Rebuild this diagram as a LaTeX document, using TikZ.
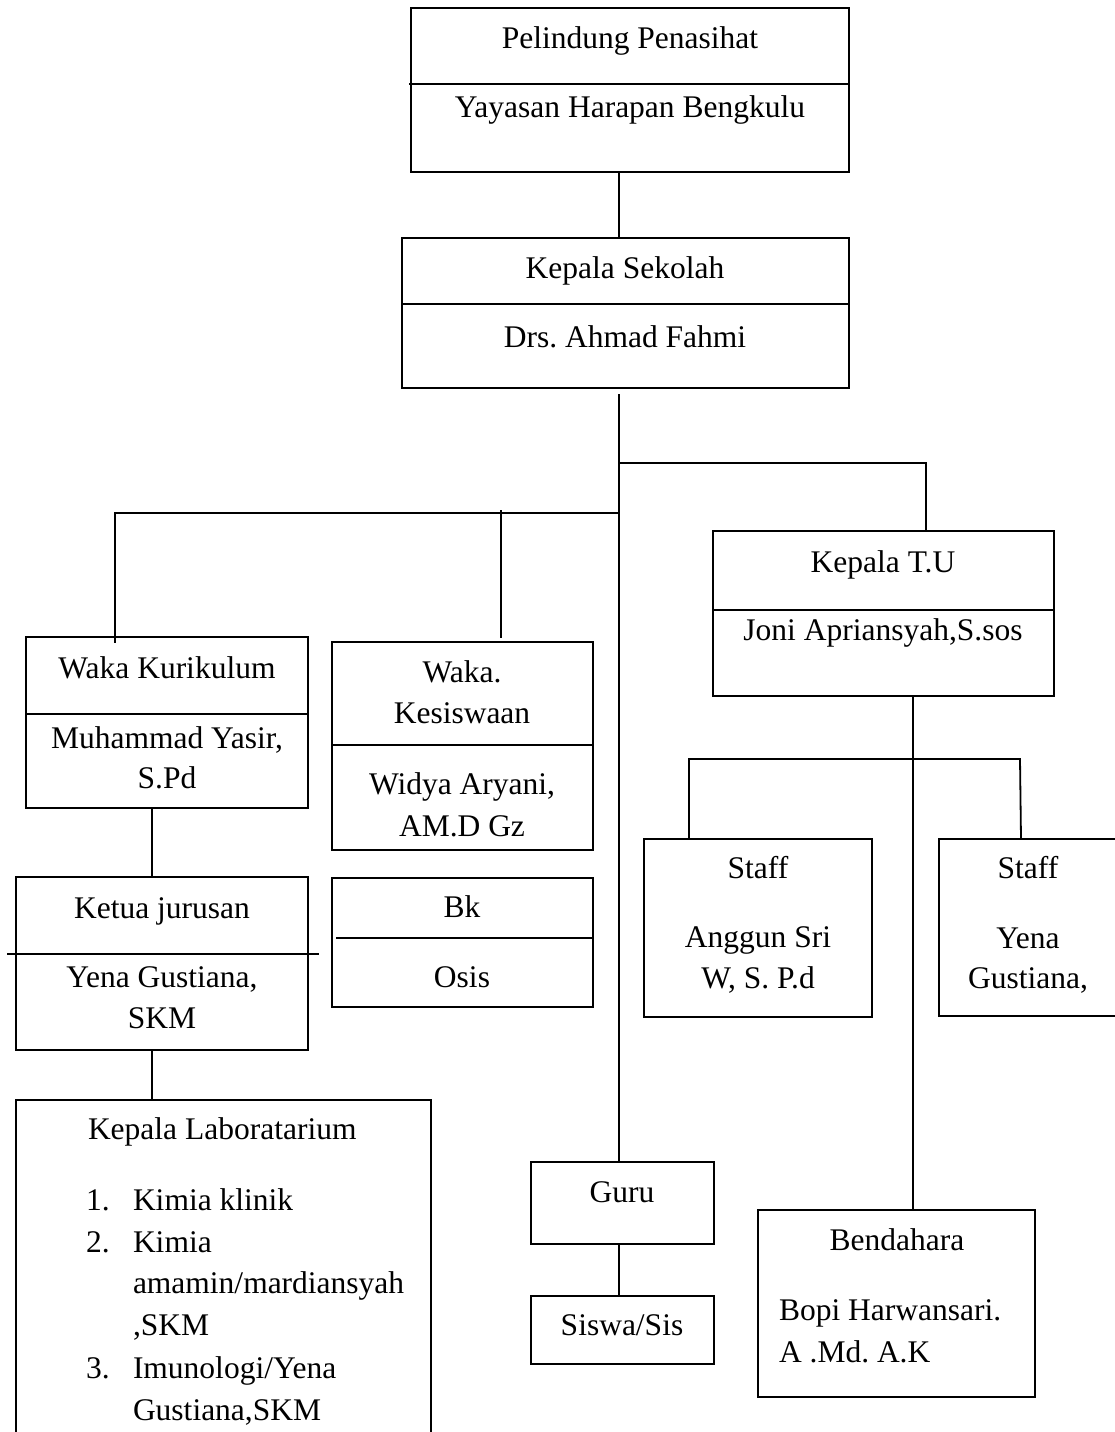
\documentclass[tikz,border=0pt]{standalone}
\usepackage{fontspec}
\setmainfont{Liberation Serif}
\frenchspacing
\begin{document}
\begin{tikzpicture}[x=1pt,y=-1pt,
  box/.style={draw, line width=1.8pt, inner sep=0pt, outer sep=0pt, anchor=north west},
  conn/.style={line width=1.8pt, line cap=rect},
  divl/.style={line width=1.8pt},
  txt/.style={inner sep=0pt, outer sep=0pt, anchor=base, font=\fontsize{31.5}{42}\selectfont},
  ltxt/.style={txt, anchor=base west}]
\fill[white] (0,0) rectangle (1114,1432);
\useasboundingbox (0,0) rectangle (1114,1432);

% boxes
\node[box, minimum width=438pt, minimum height=164pt] (pel) at (411,8) {};
\node[box, minimum width=447pt, minimum height=150pt] (ks) at (402,238) {};
\node[box, minimum width=341pt, minimum height=165pt] (tu) at (713,531) {};
\node[box, minimum width=228pt, minimum height=178pt] (st1) at (644,839) {};
\node[box, minimum width=200pt, minimum height=177pt] (st2) at (939,839) {};
\node[box, minimum width=282pt, minimum height=171pt] (wk) at (26,637) {};
\node[box, minimum width=261pt, minimum height=208pt] (kes) at (332,642) {};
\node[box, minimum width=292pt, minimum height=173pt] (ketua) at (16,877) {};
\node[box, minimum width=261pt, minimum height=129pt] (bk) at (332,878) {};
\node[box, minimum width=415pt, minimum height=360pt] (lab) at (16,1100) {};
\node[box, minimum width=183pt, minimum height=82pt] (guru) at (531,1162) {};
\node[box, minimum width=183pt, minimum height=68pt] (siswa) at (531,1296) {};
\node[box, minimum width=277pt, minimum height=187pt] (bend) at (758,1210) {};

% dividers
\draw[divl] (409,84) -- (pel.east |- 0,84);
\draw[divl] (ks.west |- 0,304) -- (ks.east |- 0,304);
\draw[divl] (tu.west |- 0,610) -- (tu.east |- 0,610);
\draw[divl] (wk.west |- 0,714) -- (wk.east |- 0,714);
\draw[divl] (kes.west |- 0,745) -- (kes.east |- 0,745);
\draw[divl] (7,954) -- (319,954);
\draw[divl] (336,938) -- (bk.east |- 0,938);

% connector coordinates
\coordinate (tx) at (619,395);
\coordinate (ja) at (619,463);
\coordinate (tuj) at (926,463);
\coordinate (jb) at (619,513);
\coordinate (wkj) at (115,513);
\coordinate (wkin) at (115,642);
\coordinate (kesj) at (501,511);
\coordinate (kesend) at (501,637);
\coordinate (sl) at (689,759);
\coordinate (sr) at (1020,759);
\coordinate (srend) at (1021,839);

% connectors
\draw[conn] (pel.south -| tx) -- (ks.north -| tx);
\draw[conn] (tx) -- (guru.north -| tx);
\draw[conn] (ja) -- (tuj) -- (tuj |- tu.north);
\draw[conn] (jb) -- (wkj) -- (wkin);
\draw[conn] (kesj) -- (kesend);
\draw[conn] (wk.south -| 152,0) -- (ketua.north -| 152,0);
\draw[conn] (ketua.south -| 152,0) -- (lab.north -| 152,0);
\draw[conn] (guru.south -| tx) -- (siswa.north -| tx);
\draw[conn] (tu.south -| 913,0) -- (bend.north -| 913,0);
\draw[conn] (sl) -- (sr);
\draw[conn] (sl) -- (st1.north -| sl);
\draw[conn] (sr) -- (srend);

% texts
\node[txt] (t1) at (630,48) {Pelindung Penasihat};
\node[txt] (t2) at (630,117) {Yayasan Harapan Bengkulu};
\node[txt] (t3) at (625,278) {Kepala Sekolah};
\node[txt] (t4) at (625,347) {Drs. Ahmad Fahmi};
\node[txt] (t5) at (883,572) {Kepala T.U};
\node[txt] (t6) at (883,640) {Joni Apriansyah,S.sos};
\node[txt] (t7) at (758,878) {Staff};
\node[txt] (t8) at (758,947) {Anggun Sri};
\node[txt] (t9) at (758,988) {W, S. P.d};
\node[txt] (t10) at (1028,878) {Staff};
\node[txt] (t11) at (1028,948) {Yena};
\node[txt] (t12) at (1028,988) {Gustiana,};
\node[txt] (t13) at (167,678) {Waka Kurikulum};
\node[txt] (t14) at (167,748) {Muhammad Yasir,};
\node[txt] (t15) at (167,788) {S.Pd};
\node[txt] (t16) at (462,682) {Waka.};
\node[txt] (t17) at (462,723) {Kesiswaan};
\node[txt] (t18) at (462,794) {Widya Aryani,};
\node[txt] (t19) at (462,836) {AM.D Gz};
\node[txt] (t20) at (162,918) {Ketua jurusan};
\node[txt] (t21) at (162,987) {Yena Gustiana,};
\node[txt] (t22) at (162,1028) {SKM};
\node[txt] (t23) at (462,917) {Bk};
\node[txt] (t24) at (462,987) {Osis};
\node[ltxt] (t25) at (88,1139) {Kepala Laboratarium};
\node[ltxt] (n1) at (86,1210) {1.};
\node[ltxt] (t26) at (133,1210) {Kimia klinik};
\node[ltxt] (n2) at (86,1252) {2.};
\node[ltxt] (t27) at (133,1252) {Kimia};
\node[ltxt] (t28) at (133,1293) {amamin/mardiansyah};
\node[ltxt] (t29) at (133,1335) {,SKM};
\node[ltxt] (n3) at (86,1378) {3.};
\node[ltxt] (t30) at (133,1378) {Imunologi/Yena};
\node[ltxt] (t31) at (133,1420) {Gustiana,SKM};
\node[txt] (t32) at (622,1202) {Guru};
\node[txt] (t33) at (622,1335) {Siswa/Sis};
\node[txt] (t34) at (897,1250) {Bendahara};
\node[ltxt] (t35) at (779,1320) {Bopi Harwansari.};
\node[ltxt] (t36) at (779,1362) {A .Md. A.K};
\end{tikzpicture}
\end{document}
